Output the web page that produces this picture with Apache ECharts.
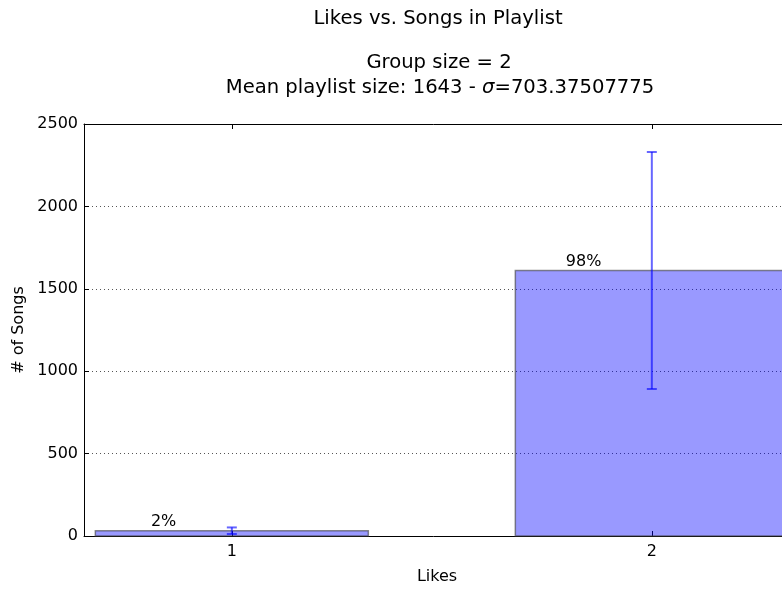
<!DOCTYPE html>
<html>
<head>
<meta charset="utf-8">
<script src="https://cdn.jsdelivr.net/npm/echarts@6/dist/echarts.min.js"></script>
<style>
  html, body { margin: 0; padding: 0; background: #fff; }
  #chart { width: 782px; height: 590px; }
</style>
</head>
<body>
<div id="chart"></div>
<script>
// Likes groups and the number of songs in each
const categories = [1, 2];
const songs = [32, 1611];
const songErrors = [20, 719];
const percentLabels = ['2%', '98%'];

const BAR_WIDTH = 0.65;
const FONT = 'DejaVu Sans';
const TITLE_SIZE = 19.6;

const barData = categories.map((c, i) => [c, songs[i], songErrors[i], percentLabels[i]]);

const chart = echarts.init(document.getElementById('chart'), null, { renderer: 'canvas' });

const titleStyle = { fontFamily: FONT, fontSize: TITLE_SIZE, fontWeight: 'normal', color: '#000' };

chart.setOption({
  animation: false,
  backgroundColor: '#ffffff',
  title: [
    { text: 'Likes vs. Songs in Playlist', left: 433, top: 4, textAlign: 'center', textStyle: titleStyle },
    { text: 'Group size = 2', left: 434, top: 48, textAlign: 'center', textStyle: titleStyle },
    {
      text: 'Mean playlist size: 1643 - {i|σ}=703.37507775',
      left: 435, top: 73, textAlign: 'center',
      textStyle: Object.assign({}, titleStyle, {
        rich: { i: { fontFamily: FONT, fontSize: TITLE_SIZE, fontStyle: 'italic', color: '#000' } }
      })
    }
  ],
  grid: { left: 84, top: 124, width: 706, height: 412, containLabel: false, outerBoundsMode: 'none' },
  xAxis: [
    {
      type: 'value', min: 0.648, max: 2.329,
      name: 'Likes', nameLocation: 'middle', nameGap: 33,
      nameTextStyle: { fontFamily: FONT, fontSize: 16, color: '#000' },
      axisLine: { show: true, onZero: false, lineStyle: { color: '#000', width: 1 } },
      axisTick: { show: true, inside: true, length: 5, customValues: categories, lineStyle: { color: '#000' } },
      axisLabel: { show: true, customValues: categories, margin: 8, fontFamily: FONT, fontSize: 16, color: '#000' },
      splitLine: { show: false }
    },
    {
      type: 'value', position: 'top', min: 0.648, max: 2.329,
      axisLine: { show: true, onZero: false, lineStyle: { color: '#000', width: 1 } },
      axisTick: { show: true, inside: true, length: 5, customValues: categories, lineStyle: { color: '#000' } },
      axisLabel: { show: false },
      splitLine: { show: false }
    }
  ],
  yAxis: [
    {
      type: 'value', min: 0, max: 2500, interval: 500,
      name: '# of Songs', nameLocation: 'middle', nameGap: 55, nameRotate: 90,
      nameTextStyle: { fontFamily: FONT, fontSize: 16, color: '#000' },
      axisLine: { show: true, onZero: false, lineStyle: { color: '#000', width: 1 } },
      axisTick: { show: true, inside: true, length: 5, lineStyle: { color: '#000' } },
      axisLabel: { margin: 6, fontFamily: FONT, fontSize: 16, color: '#000', formatter: v => String(v) },
      splitLine: { show: true, lineStyle: { color: '#555', width: 1, type: [1, 3] } }
    }
  ],
  series: [
    {
      type: 'custom',
      name: 'songs',
      xAxisIndex: 0,
      yAxisIndex: 0,
      clip: false,
      data: barData,
      encode: { x: 0, y: 1 },
      z: 3,
      renderItem: function (params, api) {
        const x = api.value(0);
        const y = api.value(1);
        const err = api.value(2);
        const label = barData[params.dataIndex][3];
        const leftTop = api.coord([x - BAR_WIDTH / 2, y]);
        const rightBottom = api.coord([x + BAR_WIDTH / 2, 0]);
        const lo = api.coord([x, y - err]);
        const hi = api.coord([x, y + err]);
        const textPos = api.coord([x - BAR_WIDTH / 4, y]);
        const cap = 5;
        const errStyle = { stroke: 'rgba(0,0,255,0.6)', lineWidth: 2 };
        return {
          type: 'group',
          children: [
            {
              type: 'rect',
              shape: {
                x: leftTop[0], y: leftTop[1],
                width: rightBottom[0] - leftTop[0],
                height: rightBottom[1] - leftTop[1]
              },
              style: { fill: 'rgba(0,0,255,0.4)', stroke: 'rgba(60,60,60,0.6)', lineWidth: 1.5 }
            },
            { type: 'line', shape: { x1: lo[0], y1: lo[1], x2: hi[0], y2: hi[1] }, style: errStyle },
            { type: 'line', shape: { x1: hi[0] - cap, y1: hi[1], x2: hi[0] + cap, y2: hi[1] }, style: errStyle },
            { type: 'line', shape: { x1: lo[0] - cap, y1: lo[1], x2: lo[0] + cap, y2: lo[1] }, style: errStyle },
            {
              type: 'text',
              x: textPos[0], y: textPos[1] - 1,
              style: {
                text: label, fontFamily: FONT, fontSize: 16, fill: '#000',
                align: 'center', verticalAlign: 'bottom'
              }
            }
          ]
        };
      }
    }
  ]
});
</script>
</body>
</html>
